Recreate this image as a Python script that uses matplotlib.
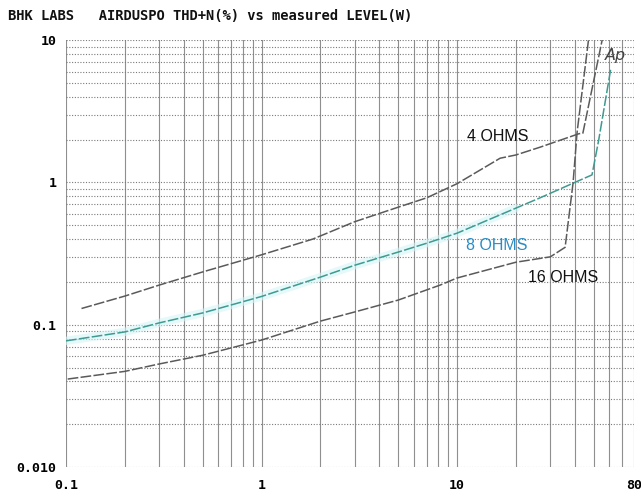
import matplotlib
matplotlib.use("Agg")
from matplotlib import pyplot as plt
from matplotlib.ticker import FixedLocator, NullFormatter

# power (W) vs THD+N (%)
x_4ohm = [0.12, 0.2, 0.3, 0.5, 1.0, 1.83, 3.0, 5.0, 7.0, 10.0, 16.6, 20.0, 26.6, 42.0, 44.0, 56.0]
y_4ohm = [0.13, 0.159, 0.19, 0.235, 0.31, 0.40, 0.53, 0.67, 0.78, 0.98, 1.48, 1.56, 1.77, 2.2, 2.22, 11.0]

x_8ohm = [0.1, 0.2, 0.3, 0.5, 1.0, 2.0, 3.0, 5.0, 7.0, 10.0, 20.0, 26.6, 40.0, 49.0, 53.0, 61.0]
y_8ohm = [0.077, 0.089, 0.103, 0.121, 0.158, 0.216, 0.262, 0.324, 0.374, 0.44, 0.66, 0.78, 1.0, 1.13, 1.98, 6.2]

x_16ohm = [0.102, 0.2, 0.3, 0.5, 1.0, 2.0, 3.0, 5.0, 8.2, 10.0, 20.0, 30.0, 35.7, 39.2, 41.1, 47.4]
y_16ohm = [0.0415, 0.047, 0.053, 0.061, 0.078, 0.106, 0.123, 0.149, 0.19, 0.213, 0.275, 0.30, 0.35, 0.99, 2.25, 11.0]

x_ticks = [0.1, 1, 10, 80]
x_ticklabels = ['0.1', '1', '10', '80']
y_ticks = [0.01, 0.1, 1, 10]
y_ticklabels = ['0.010', '0.1', '1', '10']

mono = 'DejaVu Sans Mono'

fig = plt.figure(figsize=(6.41, 4.96), dpi=100)
ax = fig.add_axes([0.103, 0.0585, 0.8855, 0.8605])
ax.set_xscale('log')
ax.set_yscale('log')
ax.set_xlim(0.1, 80)
ax.set_ylim(0.01, 10)

# grid: solid verticals, dotted horizontals
vlines = [m * 10 ** e for e in (-1, 0, 1) for m in range(1, 10) if m * 10 ** e <= 80]
hlines = [m * 10 ** e for e in (-2, -1, 0) for m in range(1, 10)] + [10]
for v in vlines:
    ax.axvline(v, color='#8f8f8f', lw=0.8, zorder=1)
for h in hlines:
    ax.axhline(h, color='#7a7a7a', lw=0.8, ls=(0, (1, 1.5)), zorder=1)

for s in ax.spines.values():
    s.set_visible(False)

# curves
ax.plot(x_8ohm[:11], y_8ohm[:11], color='#d4f5f8', lw=6, alpha=0.6, zorder=2, solid_capstyle='round')
ax.plot(x_4ohm, y_4ohm, color='#5a5a5a', lw=1.1, ls=(0, (7, 1.5)), zorder=3)
ax.plot(x_8ohm, y_8ohm, color='#3f9a90', lw=1.1, ls=(0, (7, 1.5)), zorder=3)
ax.plot(x_16ohm, y_16ohm, color='#5a5a5a', lw=1.1, ls=(0, (7, 1.5)), zorder=3)

ax.text(16.2, 2.11, '4 OHMS', fontsize=11.5, family='Liberation Sans', color='#111111',
        ha='center', va='center', zorder=4)
ax.text(16.0, 0.363, '8 OHMS', fontsize=11.5, family='Liberation Sans', color='#2a8cc4',
        ha='center', va='center', zorder=4)
ax.text(34.9, 0.216, '16 OHMS', fontsize=11.5, family='Liberation Sans', color='#111111',
        ha='center', va='center', zorder=4)
ax.text(64.3, 7.85, 'Ap', fontsize=11.5, style='italic', color='#444444',
        ha='center', va='center', zorder=4)

ax.xaxis.set_major_locator(FixedLocator(x_ticks))
ax.xaxis.set_minor_formatter(NullFormatter())
ax.set_xticklabels(x_ticklabels)
ax.yaxis.set_major_locator(FixedLocator(y_ticks))
ax.yaxis.set_minor_formatter(NullFormatter())
ax.set_yticklabels(y_ticklabels)
ax.tick_params(which='both', length=0, labelsize=9.5, pad=7)
for lab in ax.get_xticklabels() + ax.get_yticklabels():
    lab.set_family(mono)
    lab.set_fontweight('bold')
ax.tick_params(axis='x', pad=9)

fig.text(0.012, 0.968, 'BHK LABS   AIRDUSPO THD+N(%) vs measured LEVEL(W)',
         family=mono, fontsize=9.9, fontweight='bold', color='#111111', va='center')

plt.savefig('out.png', dpi=100)
